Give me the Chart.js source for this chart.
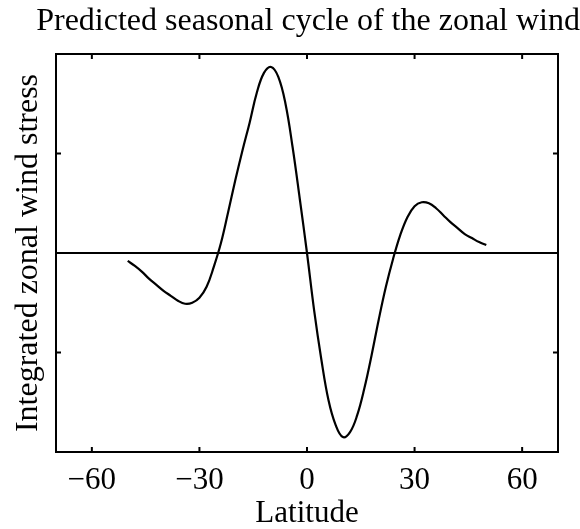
<!DOCTYPE html>
<html>
<head>
<meta charset="utf-8">
<script src="https://cdn.jsdelivr.net/npm/chart.js@4"></script>
<style>
  body { margin: 0; background: #fff; }
</style>
</head>
<body>
<canvas id="windChart" width="580" height="529"></canvas>
<script>
// latitude (deg) and integrated zonal wind stress (arbitrary units)
let latitude = [-50,-48,-46,-44,-42,-40,-38,-36,-34,-32,-30,-28,-26,-24,-22,-20,-18,-16,-14,-12,-10,-8,-6,-4,-2,
  0,2,4,6,8,10,12,14,16,18,20,22,24,26,28,30,32,34,36,38,40,42,44,46,48,50];
let stress = [-0.08,-0.13,-0.19,-0.26,-0.32,-0.38,-0.43,-0.48,-0.51,-0.50,-0.45,-0.34,-0.14,0.10,0.41,0.73,1.03,1.31,1.61,1.81,1.87,1.77,1.50,1.06,0.54,
  0.00,-0.58,-1.07,-1.48,-1.73,-1.85,-1.80,-1.63,-1.36,-1.03,-0.67,-0.34,-0.06,0.18,0.36,0.47,0.51,0.50,0.45,0.38,0.31,0.25,0.19,0.15,0.11,0.08];
let zeroLine = [-70, 70];
let xTicks = [-60, -30, 0, 30, 60];
let yTicks = [-1, 0, 1];

let serif = "'Liberation Serif', 'Times New Roman', serif";

// frame around the plot with inward ticks on all four sides
let framePlugin = {
  id: 'frame',
  afterDatasetsDraw(chart) {
    let {ctx, chartArea: a, scales} = chart;
    ctx.save();
    ctx.strokeStyle = '#000';
    ctx.lineWidth = 2;
    ctx.strokeRect(a.left, a.top, a.right - a.left, a.bottom - a.top);
    ctx.beginPath();
    xTicks.forEach(v => {
      let px = scales.x.getPixelForValue(v);
      ctx.moveTo(px, a.bottom); ctx.lineTo(px, a.bottom - 5);
      ctx.moveTo(px, a.top); ctx.lineTo(px, a.top + 5);
    });
    yTicks.forEach(v => {
      let py = scales.y.getPixelForValue(v);
      ctx.moveTo(a.left, py); ctx.lineTo(a.left + 5, py);
      ctx.moveTo(a.right, py); ctx.lineTo(a.right - 5, py);
    });
    ctx.stroke();
    ctx.restore();
  }
};

var ctx = document.getElementById('windChart').getContext('2d');
var windChart = new Chart(ctx, {
  type: 'line',
  data: {
    datasets: [{
      label: 'stress',
      data: latitude.map((v, i) => ({x: v, y: stress[i]})),
      borderColor: '#000',
      borderWidth: 2.2,
      pointRadius: 0,
      tension: 0.4,
      fill: false
    },
    {
      label: 'zero',
      data: zeroLine.map(v => ({x: v, y: 0})),
      borderColor: '#000',
      borderWidth: 2,
      pointRadius: 0
    }]
  },
  options: {
    responsive: false,
    animation: false,
    layout: {padding: 0},
    scales: {
      x: {
        type: 'linear',
        min: -70,
        max: 70,
        afterBuildTicks: s => { s.ticks = xTicks.map(v => ({value: v})); },
        afterFit: s => { s.height = 77; },
        grid: {display: false},
        border: {display: false},
        ticks: {
          color: '#000',
          padding: 2,
          font: {family: serif, size: 31},
          callback: v => v < 0 ? '\u2212' + Math.abs(v) : String(v)
        },
        title: {
          display: true,
          text: 'Latitude',
          color: '#000',
          font: {family: serif, size: 31, lineHeight: 1.0},
          padding: {top: 0, bottom: 0}
        }
      },
      y: {
        min: -2,
        max: 2,
        afterFit: s => { s.width = 56; },
        grid: {display: false},
        border: {display: false},
        ticks: {display: false},
        title: {
          display: true,
          text: 'Integrated zonal wind stress',
          color: '#000',
          font: {family: serif, size: 32, lineHeight: 1.2},
          padding: {top: 9, bottom: 0}
        }
      },
      // empty right-hand scale, only reserves the margin right of the frame
      yRight: {
        position: 'right',
        min: -2,
        max: 2,
        afterFit: s => { s.width = 22; },
        grid: {display: false},
        border: {display: false},
        ticks: {display: false}
      }
    },
    plugins: {
      legend: {display: false},
      tooltip: {enabled: false},
      title: {
        display: true,
        text: 'Predicted seasonal cycle of the zonal wind',
        color: '#000',
        align: 'end',
        font: {family: serif, size: 32, weight: 'normal', lineHeight: 1.2},
        padding: {top: 2, bottom: 13.6}
      }
    }
  },
  plugins: [framePlugin]
});
</script>
</body>
</html>
